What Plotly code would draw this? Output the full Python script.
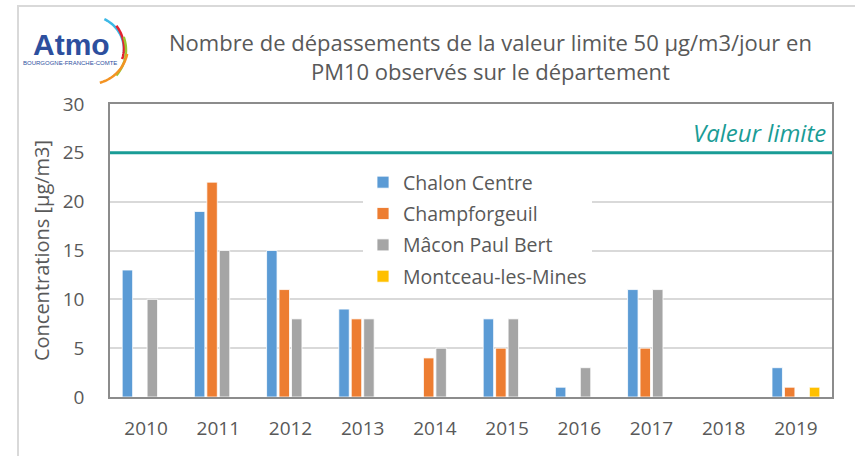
import plotly.graph_objects as go
import math

years = ["2010", "2011", "2012", "2013", "2014", "2015", "2016", "2017", "2018", "2019"]
chalon = [13, 19, 15, 9, None, 8, 1, 11, None, 3]
champ = [None, 22, 11, 8, 4, 5, None, 5, None, 1]
macon = [10, 15, 8, 8, 5, 8, 3, 11, None, None]
montceau = [None, None, None, None, None, None, None, None, None, 1]
series_names = ["Chalon Centre", "Champforgeuil", "Mâcon Paul Bert", "Montceau-les-Mines"]
series_colors = ["#5b9bd5", "#ed7d31", "#a5a5a5", "#ffc000"]
limit_value = 25
y_ticks = [0, 5, 10, 15, 20, 25, 30]

W, H = 855, 456
L, R, T, B = 110, 23, 104, 59
PW, PH = W - L - R, H - T - B

def px(x):
    return (x - L) / PW

def py(y):
    return (H - B - y) / PH

FONT = "Open Sans"
TXT = "#595959"
TEAL = "#1a9c96"

fig = go.Figure()
for name, vals, col in zip(series_names, [chalon, champ, macon, montceau], series_colors):
    fig.add_trace(go.Bar(x=years, y=vals, name=name, legendgroup=name,
                         marker=dict(color=col, line=dict(color="white", width=0.8))))

shapes = []
shapes.append(dict(type="line", xref="paper", yref="y", x0=0, x1=1, y0=limit_value, y1=limit_value,
                   line=dict(color=TEAL, width=3), layer="above"))
shapes.append(dict(type="path", xref="paper", yref="paper",
                   path=f"M {px(18)} {py(460)} L {px(18)} {py(6)} L {px(860)} {py(6)}",
                   line=dict(color="#d9d9d9", width=2)))

def arc(cx, cy, r, a0, a1, n=24):
    pts = []
    for i in range(n + 1):
        a = math.radians(a0 + (a1 - a0) * i / n)
        pts.append((px(cx + r * math.cos(a)), py(cy - r * math.sin(a))))
    return "M " + " L ".join(f"{a:.5f} {b:.5f}" for a, b in pts)

logo_arcs = [
    (90, 50, 34, 65, -5, "#3cb8e6"),
    (88, 48, 36, 38, -18, "#e3222f"),
    (88, 50, 38, 20, -42, "#9cc531"),
    (90, 46, 38, -12, -75, "#f39323"),
]
for cx, cy, r, a0, a1, col in logo_arcs:
    shapes.append(dict(type="path", xref="paper", yref="paper", path=arc(cx, cy, r, a0, a1),
                       line=dict(color=col, width=2.5)))

annotations = [
    dict(text="Nombre de dépassements de la valeur limite 50 µg/m3/jour en<br>PM10 observés sur le département",
         xref="paper", yref="paper", x=px(490), y=py(56), xanchor="center", yanchor="middle", showarrow=False,
         font=dict(family=FONT, size=22, color=TXT), align="center"),
    dict(text="<i>Valeur limite</i>", xref="paper", yref="paper", x=px(828), y=py(132),
         xanchor="right", yanchor="middle",
         showarrow=False, font=dict(family=FONT, size=24, color=TEAL)),
    dict(text="<b>Atmo</b>", xref="paper", yref="paper", x=px(71), y=py(45), xanchor="center", yanchor="middle",
         showarrow=False, font=dict(family="Liberation Sans", size=30, color="#2d4f9e")),
    dict(text="BOURGOGNE-FRANCHE-COMTE", xref="paper", yref="paper", x=px(70), y=py(63),
         xanchor="center", yanchor="middle", showarrow=False,
         font=dict(family="Liberation Sans", size=6, color="#2d4f9e")),
]

fig.update_layout(
    width=W, height=H,
    margin=dict(l=L, r=R, t=T, b=B, autoexpand=False),
    paper_bgcolor="white", plot_bgcolor="white",
    barmode="group", bargap=0.31, bargroupgap=0.16,
    font=dict(family=FONT, color=TXT, size=17),
    shapes=shapes, annotations=annotations,
    legend=dict(x=px(363), y=py(163), xanchor="left", yanchor="top", bgcolor="white",
                font=dict(family=FONT, size=19.5, color=TXT), tracegroupgap=3, itemwidth=30,
                traceorder="grouped"),
    xaxis=dict(showline=True, linecolor="#8c8c8c", linewidth=1.5, mirror=True, ticks="",
               tickfont=dict(size=19, color=TXT), ticklabelstandoff=13, automargin=False),
    yaxis=dict(range=[0, 30], tickvals=y_ticks, showgrid=True, gridcolor="#d9d9d9", gridwidth=1.5,
               showline=True, linecolor="#8c8c8c", linewidth=1.5, mirror=True, ticks="",
               tickfont=dict(size=19, color=TXT), ticklabelstandoff=20, zeroline=False, automargin=False,
               title=dict(text="Concentrations [µg/m3]", font=dict(size=20, color=TXT), standoff=8)),
)

fig.write_html("out.html", config={"displayModeBar": False},
               post_script="document.body.style.margin='0px';document.body.style.padding='0px';")
